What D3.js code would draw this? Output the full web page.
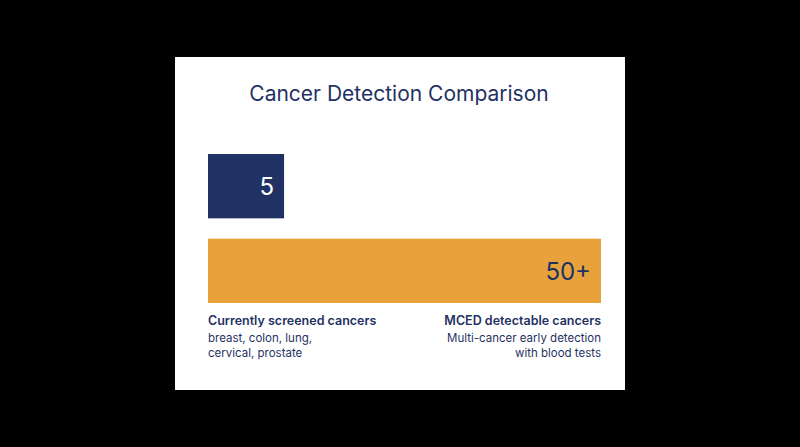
<!DOCTYPE html>
<meta charset="utf-8">
<style>
  body { margin: 0; background: #000; }
  text { font-family: 'Inter', 'Noto Sans', sans-serif; }
</style>
<script src="https://d3js.org/d3.v7.min.js"></script>
<svg width="800" height="447"></svg>
<script>
  // data
  var categories = ["Currently screened cancers", "MCED detectable cancers"];
  var values = [5, 50];
  var valueLabels = ["5", "50+"];
  var subtitles = [["breast, colon, lung,", "cervical, prostate"], ["Multi-cancer early detection", "with blood tests"]];
  var colors = ["#1f3263", "#e8a23c"];

  var svg = d3.select("svg");
  svg.append("rect").attr("x", 175).attr("y", 57).attr("width", 450).attr("height", 333).attr("fill", "#fff");

  svg.append("text").attr("x", 399).attr("y", 101).attr("text-anchor", "middle")
    .attr("font-size", 21).attr("fill", "#1f3263").text("Cancer Detection Comparison");

  // bars keep a minimum visible width, so the scale starts below zero
  var x = d3.scaleLinear().domain([-5.8, 50]).range([208, 601]);
  var y = d3.scaleBand().domain(categories).range([154, 303]).paddingInner(0.24);

  var bars = svg.selectAll("g.bar").data(categories).enter().append("g").attr("class", "bar");
  bars.append("rect")
    .attr("x", x(-5.8))
    .attr("y", function(d) { return y(d); })
    .attr("width", function(d, i) { return x(values[i]) - x(-5.8); })
    .attr("height", y.bandwidth())
    .attr("fill", function(d, i) { return colors[i]; });
  bars.append("text")
    .attr("x", function(d, i) { return x(values[i]) - 10; })
    .attr("y", function(d) { return y(d) + y.bandwidth() / 2 + 9; })
    .attr("text-anchor", "end").attr("font-size", 24)
    .attr("fill", function(d, i) { return i === 0 ? "#fff" : "#1f3263"; })
    .text(function(d, i) { return valueLabels[i]; });

  // labels under the bars
  var anchors = [{ x: 208, a: "start" }, { x: 601, a: "end" }];
  categories.forEach(function(c, i) {
    svg.append("text").attr("x", anchors[i].x).attr("y", 325).attr("text-anchor", anchors[i].a)
      .attr("font-size", 12.5).attr("font-weight", 600).attr("fill", "#1f3263").text(c);
    subtitles[i].forEach(function(s, j) {
      svg.append("text").attr("x", anchors[i].x).attr("y", 342 + j * 15).attr("text-anchor", anchors[i].a)
        .attr("font-size", 11.5).attr("fill", "#1f3263").text(s);
    });
  });
</script>
